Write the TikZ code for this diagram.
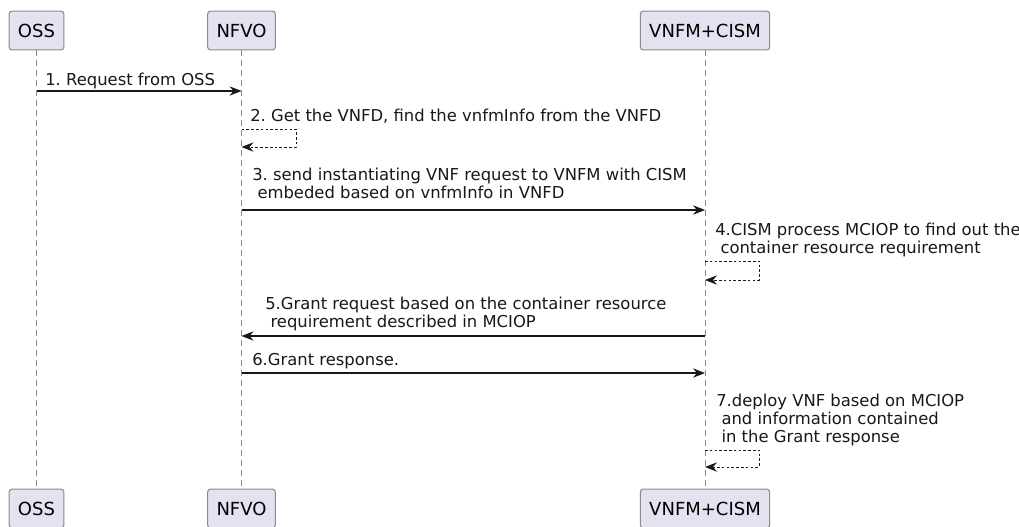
\documentclass[tikz,border=0pt]{standalone}
\usepackage{fontspec}
\setmainfont{DejaVu Sans}
\usetikzlibrary{arrows.meta,positioning,calc}
\definecolor{partfill}{HTML}{E2E2F0}
\definecolor{partline}{HTML}{181818}
\tikzset{
part/.style = {draw=partline!50, fill=partfill, rounded corners=2pt, line width=0.8pt,
               minimum height=29pt, inner xsep=6.6pt, font=\fontsize{13.5}{15}\selectfont},
life/.style = {draw=partline!50, line width=0.6pt, dash pattern=on 4pt off 3.5pt},
msg/.style  = {draw=partline, line width=0.8pt, -{Stealth[length=9pt,width=7pt,inset=3pt]}},
selfmsg/.style = {msg, line width=0.7pt, dash pattern=on 2pt off 1.6pt},
lbl/.style  = {anchor=base west, inner sep=0pt, align=left, text=partline,
               font=\fontsize{12.3}{13.2}\selectfont}
}
\frenchspacing

\begin{document}
\begin{tikzpicture}[x=0.75pt, y=-0.75pt]
  \useasboundingbox (0,0) rectangle (1019,526);

  % participants
  \node [part] (ossT)  at (36.5,30.5)  {OSS};
  \node [part] (nfvoT) at (241.5,30.5) {NFVO};
  \node [part] (vnfmT) at (705,30.5)   {VNFM+CISM};
  \node [part] (ossB)  at (36.5,508.5)  {OSS};
  \node [part] (nfvoB) at (241.5,508.5) {NFVO};
  \node [part] (vnfmB) at (705,508.5)   {VNFM+CISM};

  \draw [life] (ossT) -- (ossB);
  \draw [life] (nfvoT) -- (nfvoB);
  \draw [life] (vnfmT) -- (vnfmB);

  % message ends on the lifelines
  \coordinate (m1a) at (ossT |- 0,91);
  \coordinate (m1b) at (nfvoT |- 0,91);
  \coordinate (m2a) at (nfvoT |- 0,129);
  \coordinate (m2b) at (nfvoT |- 0,147);
  \coordinate (m2c) at (296,147);
  \coordinate (m3a) at (nfvoT |- 0,210);
  \coordinate (m3b) at (vnfmT |- 0,210);
  \coordinate (m4a) at (vnfmT |- 0,261);
  \coordinate (m4b) at (vnfmT |- 0,280);
  \coordinate (m4c) at (759,280);
  \coordinate (m5a) at (vnfmT |- 0,336);
  \coordinate (m5b) at (nfvoT |- 0,336);
  \coordinate (m6a) at (nfvoT |- 0,373);
  \coordinate (m6b) at (vnfmT |- 0,373);
  \coordinate (m7a) at (vnfmT |- 0,450);
  \coordinate (m7b) at (vnfmT |- 0,467);
  \coordinate (m7c) at (759,467);

  % labels, anchored on the baseline of their last line
  \node [lbl] (t1) at (45,85)  {1. Request from OSS};
  \node [lbl] (t2) at (250,121) {2. Get the VNFD, find the vnfmInfo from the VNFD};
  \node [lbl] (t3) at (252,198) {3. send instantiating VNF request to VNFM with CISM\\\hspace*{.32em}embeded based on vnfmInfo in VNFD};
  \node [lbl] (t4) at (715,253) {4.CISM process MCIOP to find out the\\\hspace*{.32em}container resource requirement};
  \node [lbl] (t5) at (265,327) {5.Grant request based on the container resource\\\hspace*{.32em}requirement described in MCIOP};
  \node [lbl] (t6) at (252,365) {6.Grant response.};
  \node [lbl] (t7) at (716,442) {7.deploy VNF based on MCIOP\\\hspace*{.32em}and information contained\\\hspace*{.32em}in the Grant response};

  \draw [msg] (m1a) -- (m1b);
  \draw [selfmsg] (m2a) -| (m2c) -- (m2b);
  \draw [msg] (m3a) -- (m3b);
  \draw [selfmsg] (m4a) -| (m4c) -- (m4b);
  \draw [msg] (m5a) -- (m5b);
  \draw [msg] (m6a) -- (m6b);
  \draw [selfmsg] (m7a) -| (m7c) -- (m7b);
\end{tikzpicture}
\end{document}
